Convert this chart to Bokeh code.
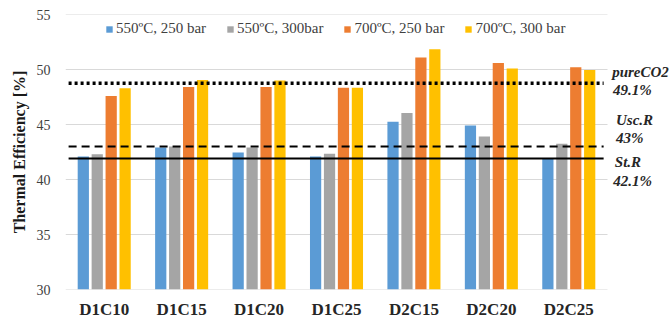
from bokeh.plotting import figure
from bokeh.models import Range1d, Label, Legend, LegendItem, ColumnDataSource, FixedTicker
from bokeh.transform import dodge
from bokeh.embed import file_html
from bokeh.resources import INLINE

categories = ["D1C10", "D1C15", "D1C20", "D1C25", "D2C15", "D2C20", "D2C25"]
series_names = ["550ºC, 250 bar", "550ºC, 300bar", "700ºC, 250 bar", "700ºC, 300 bar"]
s550_250 = [42.1, 42.9, 42.45, 42.1, 45.25, 44.9, 41.95]
s550_300 = [42.3, 43.0, 42.9, 42.35, 46.05, 43.9, 43.25]
s700_250 = [47.6, 48.4, 48.4, 48.35, 51.1, 50.6, 50.2]
s700_300 = [48.3, 49.05, 49.0, 48.35, 51.85, 50.1, 49.95]
colors = ["#5B9BD5", "#A5A5A5", "#ED7D31", "#FFC000"]
offsets = [-0.27, -0.09, 0.09, 0.27]

ref_names = ["pureCO2", "Usc.R", "St.R"]
ref_values = [48.75, 43.0, 41.92]
ref_labels = ["49.1%", "43%", "42.1%"]
name_pos = [(7.06, 49.73), (7.11, 45.45), (7.095, 41.57)]
label_pos = [(7.07, 48.1), (7.11, 43.75), (7.073, 39.85)]
y_ticks = [30, 35, 40, 45, 50, 55]

n = len(categories)
xs = [i + 0.5 for i in range(n)]
src = ColumnDataSource(dict(x=xs, a=s550_250, b=s550_300, c=s700_250, d=s700_300))

FRAME_LEFT, FRAME_RIGHT, CAT_PX = 65, 670, 542 / n
p = figure(x_range=Range1d(0, (FRAME_RIGHT - FRAME_LEFT) / CAT_PX), y_range=Range1d(30, 55),
           width=670, height=321, output_backend="svg", toolbar_location=None,
           min_border_left=FRAME_LEFT, min_border_right=0, min_border_top=14, min_border_bottom=31)
p.outline_line_color = None
p.background_fill_color = "white"

# horizontal gridlines limited to the category area
p.segment(x0=[0] * len(y_ticks), x1=[n] * len(y_ticks), y0=y_ticks, y1=y_ticks,
          line_color="#D9D9D9", line_width=1)

items = []
for key, name, col, off in zip(["a", "b", "c", "d"], series_names, colors, offsets):
    r = p.vbar(x=dodge("x", off), top=key, bottom=30, width=0.145,
               source=src, fill_color=col, line_color=None)
    items.append(LegendItem(label=name, renderers=[r]))

# reference lines
styles = [dict(line_dash="3 3", line_width=3.5), dict(line_dash="8 5", line_width=2),
          dict(line_dash="solid", line_width=2)]
for v, st in zip(ref_values, styles):
    p.segment(x0=[0.04], x1=[n - 0.05], y0=[v], y1=[v], line_color="black", **st)

for txt, (lx, ly) in zip(ref_names + ref_labels, name_pos + label_pos):
    p.add_layout(Label(x=lx, y=ly, text=txt, text_font="Liberation Serif",
                       text_font_style="bold italic", text_font_size="15px", text_color="#262626",
                       text_baseline="middle"))

legend = Legend(items=items, orientation="horizontal", location="top_left",
                border_line_color=None, background_fill_alpha=0, margin=0, padding=0,
                spacing=20, glyph_width=8, glyph_height=8, label_standoff=3,
                label_text_font="Liberation Serif", label_text_font_size="15px",
                label_text_color="#404040")
legend.location = (40, 252)
p.add_layout(legend, "center")

p.yaxis.ticker = FixedTicker(ticks=y_ticks)
p.yaxis.axis_line_color = None
p.yaxis.major_tick_line_color = None
p.yaxis.minor_tick_line_color = None
p.yaxis.major_tick_out = 0
p.yaxis.major_label_standoff = 15
p.yaxis.major_label_text_font = "Liberation Serif"
p.yaxis.major_label_text_font_size = "14px"
p.yaxis.major_label_text_color = "#404040"
p.yaxis.axis_label = "Thermal Efficiency [%]"
p.yaxis.axis_label_text_font = "Liberation Serif"
p.yaxis.axis_label_text_font_style = "bold"
p.yaxis.axis_label_text_font_size = "16px"
p.yaxis.axis_label_text_color = "#1a1a1a"
p.yaxis.axis_label_standoff = 6

p.xaxis.ticker = FixedTicker(ticks=xs)
p.xaxis.major_label_overrides = {x: c for x, c in zip(xs, categories)}
p.xaxis.axis_line_color = None
p.xaxis.major_tick_line_color = None
p.xaxis.minor_tick_line_color = None
p.xaxis.major_tick_out = 0
p.xaxis.major_label_standoff = 10
p.xaxis.axis_label_standoff = 0
p.xaxis.major_label_text_font = "Liberation Serif"
p.xaxis.major_label_text_font_style = "bold"
p.xaxis.major_label_text_font_size = "17px"
p.xaxis.major_label_text_color = "#262626"

p.xgrid.grid_line_color = None
p.ygrid.grid_line_color = None

open("out.html", "w").write(file_html(p, INLINE))
